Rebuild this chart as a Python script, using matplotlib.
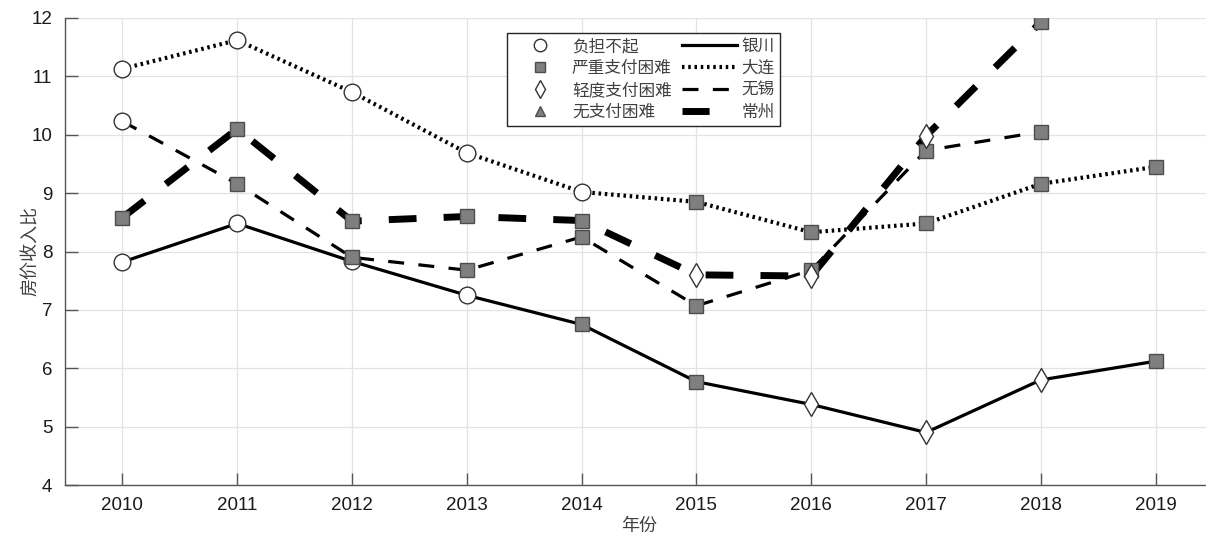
import matplotlib
matplotlib.use("Agg")
import matplotlib.pyplot as plt
from matplotlib.lines import Line2D

years = [2010, 2011, 2012, 2013, 2014, 2015, 2016, 2017, 2018, 2019]

# house price to income ratio, per city
yinchuan = [7.82, 8.48, 7.83, 7.25, 6.75, 5.77, 5.38, 4.90, 5.80, 6.12]
dalian = [11.13, 11.62, 10.73, 9.69, 9.02, 8.85, 8.33, 8.48, 9.16, 9.45]
wuxi = [10.23, 9.16, 7.90, 7.68, 8.25, 7.07, 7.68, 9.73, 10.05]
changzhou = [8.58, 10.10, 8.52, 8.60, 8.53, 7.60, 7.58, 9.98, 11.93]

# affordability class per point: 0 负担不起, 1 严重支付困难, 2 轻度支付困难, 3 无支付困难
yinchuan_cls = [0, 0, 0, 0, 1, 1, 2, 2, 2, 1]
dalian_cls = [0, 0, 0, 0, 0, 1, 1, 1, 1, 1]
wuxi_cls = [0, 1, 1, 1, 1, 1, 1, 1, 1]
changzhou_cls = [1, 1, 1, 1, 1, 2, 2, 2, 1]

class_labels = ["负担不起", "严重支付困难", "轻度支付困难", "无支付困难"]
city_labels = ["银川", "大连", "无锡", "常州"]

cn_font = ["Noto Sans CJK SC", "DejaVu Sans"]
num_font = ["Liberation Sans", "DejaVu Sans"]

marker_styles = [
    dict(marker="o", markersize=12, markerfacecolor="white", markeredgecolor="#333333", markeredgewidth=1.0),
    dict(marker="s", markersize=9.5, markerfacecolor="#7f7f7f", markeredgecolor="#4d4d4d", markeredgewidth=1.0),
    dict(marker="d", markersize=12, markerfacecolor="white", markeredgecolor="#333333", markeredgewidth=1.0),
    dict(marker="^", markersize=10, markerfacecolor="#7f7f7f", markeredgecolor="#4d4d4d", markeredgewidth=1.0),
]
line_styles = [
    dict(linestyle="-", linewidth=2.3),
    dict(linestyle=(0, (0.6, 0.9)), linewidth=3.0, dash_capstyle="butt"),
    dict(linestyle=(0, (5, 4.5)), linewidth=2.3),
    dict(linestyle=(0, (4, 3.9)), linewidth=5.0),
]
# legend keys: the thick dash shows as one short bar
legend_line_styles = line_styles[:3] + [dict(linestyle=(0, (3.9, 10)), linewidth=5.0)]

fig = plt.figure(figsize=(12.06, 5.39), dpi=100)
ax = fig.add_axes([65 / 1206, 54 / 539, (1213 - 65) / 1206, 467 / 539])

series = [(yinchuan, yinchuan_cls), (dalian, dalian_cls), (wuxi, wuxi_cls), (changzhou, changzhou_cls)]
for (vals, cls), ls in zip(series, line_styles):
    ax.plot(years[:len(vals)], vals, color="black", zorder=2, **ls)

for vals, cls in series:
    for x, y, c in zip(years, vals, cls):
        ax.plot([x], [y], linestyle="none", zorder=3, **marker_styles[c])

ax.set_xlim(2009.5, 2019.5)
ax.set_ylim(4, 12)
ax.set_xticks(years)
ax.set_yticks(range(4, 13))
ax.grid(True, color="#e3e3e3", linewidth=0.9)
ax.set_axisbelow(True)

for side in ["top", "right"]:
    ax.spines[side].set_visible(False)
for side in ["left", "bottom"]:
    ax.spines[side].set_color("#555555")
    ax.spines[side].set_linewidth(1.0)
ax.tick_params(direction="in", length=9, width=1.0, color="#555555",
               labelcolor="#1a1a1a", labelsize=13.5, pad=9)
for lab in ax.get_xticklabels() + ax.get_yticklabels():
    lab.set_family(num_font)

ax.set_xlabel("年份", family=cn_font, fontsize=13, color="#404040", labelpad=2)
ax.set_ylabel("房价收入比", family=cn_font, fontsize=13, color="#404040", labelpad=-6)

handles = [Line2D([], [], linestyle="none", **m) for m in marker_styles]
handles += [Line2D([], [], color="black", **l) for l in legend_line_styles]
leg = ax.legend(handles, class_labels + city_labels, ncol=2,
                loc="upper left", bbox_to_anchor=(507 / 1206, 1 - 33 / 539),
                bbox_transform=fig.transFigure,
                prop={"family": cn_font, "size": 12}, markerscale=0.75,
                frameon=True, fancybox=False, framealpha=1, edgecolor="#262626",
                handlelength=3.3, handletextpad=0.3, columnspacing=0.6,
                labelspacing=0.3, borderpad=0.3, borderaxespad=0)
leg.get_frame().set_linewidth(1.0)
for t in leg.get_texts():
    t.set_color("#404040")

fig.savefig("out.png", dpi=100)
